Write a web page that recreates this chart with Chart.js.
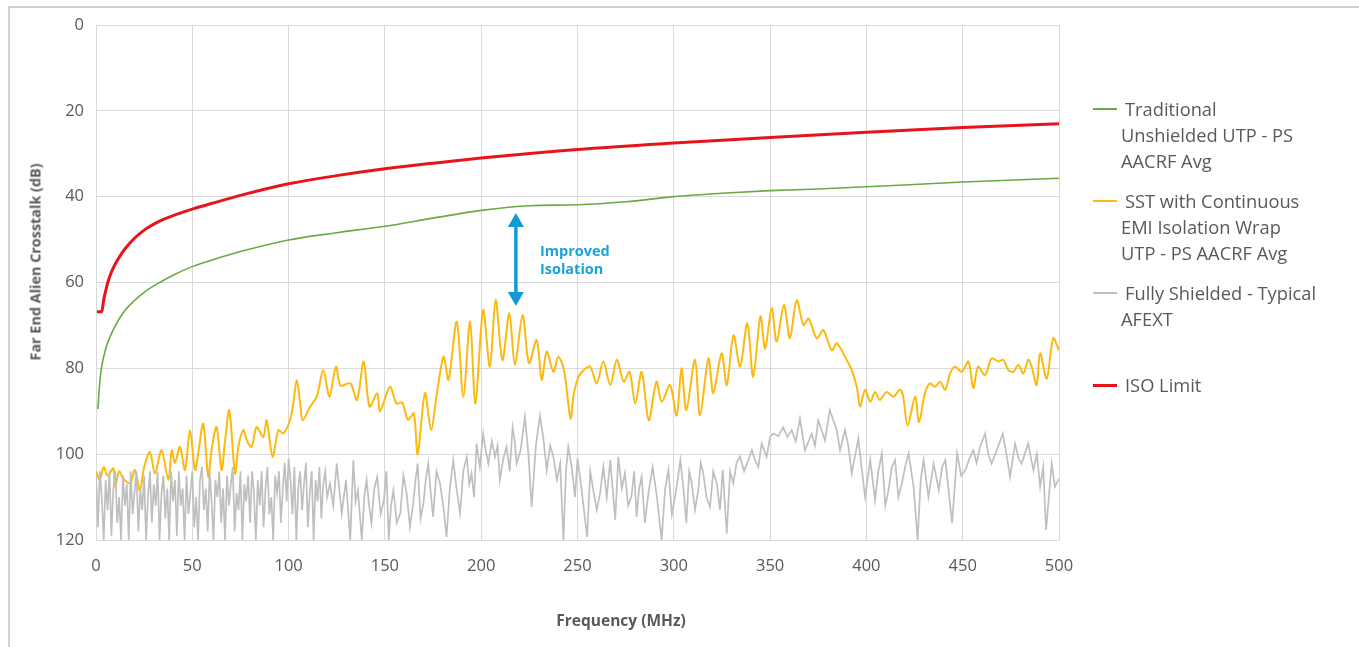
<!DOCTYPE html>
<html>
<head>
<meta charset="utf-8">
<script src="https://cdn.jsdelivr.net/npm/chart.js@4.4.1/dist/chart.umd.min.js"></script>
<style>
  html,body{margin:0;padding:0;background:#fff;}
  body{width:1359px;height:647px;position:relative;overflow:hidden;font-family:"Open Sans","Noto Sans",sans-serif;}
  #frame{position:absolute;left:8px;top:6px;width:1351px;height:641px;border-top:2px solid #d2d2d2;border-left:2px solid #d2d2d2;box-sizing:border-box;}
  #c{position:absolute;left:0;top:0;}
  .lg{position:absolute;left:1093px;color:#595959;font-size:18.3px;line-height:26px;white-space:nowrap;}
  .lg i{position:absolute;left:0;width:24px;top:12px;}
  .ttl{position:absolute;color:#595959;font-weight:bold;white-space:nowrap;transform:translate(-50%,-50%);}
  #ytitle{left:35px;top:262px;font-size:14.4px;transform:translate(-50%,-50%) rotate(-90deg);}
  #xtitle{left:621px;top:620px;font-size:15.5px;}
</style>
</head>
<body>
<div id="frame"></div>
<canvas id="c" width="1359" height="647"></canvas>
<div id="legend"></div>
<div class="ttl" id="ytitle">Far End Alien Crosstalk (dB)</div>
<div class="ttl" id="xtitle">Frequency (MHz)</div>
<script>
// ISO limit (red)
const isoFreq = [0.5, 3, 4, 5, 6, 7, 8, 10, 12.5, 15, 20, 25, 30, 35, 40, 50, 60, 75, 100, 125, 150, 175, 200, 250, 300, 350, 400, 450, 500];
const isoVals = [66.8, 66.8, 64, 62, 60.2, 58.8, 57.6, 55.7, 53.8, 52.2, 49.7, 47.8, 46.4, 45.3, 44.4, 42.9, 41.6, 39.7, 37, 35.1, 33.5, 32.2, 31, 29, 27.5, 26.2, 25, 23.9, 23];

// Traditional unshielded UTP (green)
const utpFreq = [1, 2, 3, 5, 7, 9, 12, 15, 20, 25, 30, 40, 50, 60, 75, 100, 125, 150, 175, 200, 225, 250, 275, 300, 325, 350, 375, 400, 450, 500];
const utpVals = [89.5, 83, 79.5, 75.5, 73, 71, 68.5, 66.5, 64.2, 62.3, 60.8, 58.3, 56.3, 54.8, 52.8, 50.1, 48.4, 46.9, 45, 43.2, 42.1, 41.9, 41.2, 40, 39.2, 38.6, 38.2, 37.7, 36.6, 35.7];

// SST with continuous EMI isolation wrap (yellow)
const sstFreq = [0, 2, 4, 6, 9, 10, 12, 14.2, 17.7, 20.2, 22.8, 25, 28, 30.6, 34, 37.6, 39.3, 41, 43.6, 46.2, 48.8, 51.4, 53, 55.7, 58.3, 60, 62.6, 65.2, 67, 69.2, 72.2, 74, 76.5, 78.5, 80.8, 83.4, 86.9, 88.6, 91.7, 94.7, 97.3, 100.7, 102.5, 104.2, 106, 107.3, 111.1, 114.6, 118, 121.2, 124.6, 127, 132, 135.5, 139, 142, 146, 147.5, 152.6, 156, 159, 162, 165, 167, 170.8, 174, 177, 180.5, 183, 187.3, 190.7, 194.2, 197, 201, 204.5, 207.5, 211, 214.6, 217.5, 221.5, 224.8, 228.8, 231.4, 234, 237.5, 240, 243, 246.4, 248, 250.5, 253, 256.5, 260, 263.4, 267, 270.4, 274, 277, 280, 283.3, 287, 291, 293.7, 298, 301.5, 304, 306.5, 311, 313.6, 318, 320.5, 324.8, 327.5, 331, 334.4, 338.2, 341.2, 345, 347.4, 350.8, 353.4, 357.2, 360.3, 363.8, 367.3, 370, 374.2, 377.6, 382, 384.6, 389.7, 392.4, 395, 396.7, 399.3, 402, 404.5, 407, 410.5, 414, 417.4, 419, 421.4, 425.3, 427.3, 430.4, 433, 435.6, 438.3, 440.9, 443.5, 446, 449.5, 453, 455.5, 458, 461.6, 465, 468.5, 471, 473.7, 476.3, 478.9, 481.5, 484, 485.8, 488.4, 490.2, 493.6, 497, 500];
const sstVals = [104, 106, 103, 105, 103.3, 107.6, 104, 105.7, 106.8, 103.7, 108.4, 103, 99.5, 104.5, 99.1, 106, 99.1, 102, 98.3, 103.7, 94.4, 103.7, 100, 92.9, 105.3, 99, 93.7, 103.7, 97, 89.8, 104.5, 98, 94.4, 97, 98.3, 93.7, 96, 92.1, 100.6, 94.4, 95.2, 92.1, 88, 82.7, 88, 92.1, 89, 86.6, 80.4, 86.6, 79.6, 84, 83.5, 87.4, 78.4, 88.9, 85.8, 90, 84.3, 88.2, 88, 92, 90.5, 100, 85.8, 94.4, 85.8, 77.3, 82.7, 69.1, 86.6, 69.1, 88.2, 66.4, 79.6, 64.1, 78.1, 67.2, 79.2, 67.6, 78.8, 73.4, 82.7, 76.1, 80.8, 77.3, 80.4, 91.7, 86, 82, 80.5, 79.6, 83.5, 78.4, 83.9, 78, 83.1, 80.8, 88.2, 80.8, 92.1, 83.1, 87.8, 83.9, 91, 80, 89.7, 78, 91, 77.7, 85.8, 76.5, 83.9, 72.3, 79.6, 69.5, 82, 67.9, 75.4, 66, 73.8, 65.2, 73, 64.1, 69.9, 68.4, 73, 71.1, 75.8, 74.2, 78, 80.4, 84.3, 88.9, 85, 87.8, 85.5, 87.4, 85.5, 86.6, 85, 86.3, 93.3, 86.6, 92.5, 85.8, 83.5, 84.3, 83.1, 85, 81.2, 79.6, 80.8, 78.4, 84.6, 79.6, 81.6, 77.7, 78.4, 78, 80.4, 80.8, 79.2, 81.2, 78, 79.6, 83.9, 76.5, 82.4, 73, 75.8];

// Fully shielded typical AFEXT (gray)
const shdFreq = [
  0, 1, 2, 3, 4, 5, 6, 7, 8, 9, 10, 11, 12, 13, 14, 15, 16, 17, 18, 19, 20,
  21, 22, 23, 24, 25, 26, 27, 28, 29, 30, 31, 32, 33, 34, 35, 36, 37, 38, 39, 40,
  41, 42, 43, 44, 45, 46, 47, 48, 49, 50, 51, 52, 53, 54, 55, 56, 57, 58, 59, 60,
  61, 62, 63, 64, 65, 66, 67, 68, 69, 70, 71, 72, 73, 74, 75, 76, 77, 78, 79, 80,
  81, 82, 83, 84, 85, 86, 87, 88, 89, 90, 91, 92, 93, 94, 95, 96, 97, 98, 99, 100,
  101, 102, 103, 104, 105, 106, 107, 108, 109, 110, 111, 112, 113, 114, 115, 116, 117, 118, 119, 120,
  121.5, 123.2, 125, 126.3, 127.6, 129.8, 132, 133.6, 134.8, 136, 138, 139.3, 140.5, 141.8, 143, 144.5, 146, 147.8, 149.5, 150.8,
  152, 153.2, 154.4, 156.2, 158, 159.6, 161.3, 163, 164.7, 165.9, 167, 168.5, 170, 171.2, 172.5, 173.8, 175, 176.8, 178.6, 180.3,
  182, 183.7, 185.5, 187.2, 189, 190.7, 192.5, 193.8, 195, 196.3, 197.6, 199.3, 201, 202.3, 203.7, 205.5, 207.2, 208.5, 209.7, 211.5,
  213.2, 214.8, 216.3, 217.4, 218.4, 220.5, 222.7, 224.5, 226.2, 228.4, 230.5, 232.2, 234, 235.8, 237.5, 239.3, 241, 242.7, 244, 245.2,
  247, 248.7, 250, 251.3, 253.1, 255, 256.6, 258.2, 260, 261.7, 263.4, 265.2, 267, 269.6, 271.2, 273, 274.6, 276.3, 278, 279.4,
  280.7, 282, 283.3, 285, 286.8, 289, 291, 293.7, 295.5, 297.2, 299, 300.6, 302, 303.4, 305, 306.5, 308, 309.3, 311, 312.7,
  314, 315.3, 317, 318.8, 320.5, 322.3, 324, 325.4, 327.5, 329.2, 330.9, 332.6, 334.4, 336.5, 338.7, 340.5, 342.2, 343.9, 345.6, 348.2,
  350, 351.7, 354.2, 356.8, 359, 361.2, 363.3, 365.5, 368.1, 371.6, 373.3, 375, 378.5, 381, 384.6, 386.3, 388.9, 390.6, 392.4, 395.8,
  397.5, 399.3, 402, 404.5, 406.2, 408, 409.8, 411.5, 413.2, 414.9, 416.6, 418.4, 420.1, 421.9, 424.5, 426.6, 428.2, 429.7, 432.2, 434.9,
  437.6, 439.3, 441, 444.5, 447.1, 449.2, 451.4, 453.5, 455.5, 457.2, 459, 461.6, 463.3, 465, 467.7, 470.8, 472.7, 474.6, 477.2, 479,
  480.6, 484, 486.7, 488.5, 490.2, 491.8, 493.3, 496.2, 497.9, 500
];
const shdVals = [
  105, 117, 104, 110, 120, 106, 113, 104, 119, 108, 104, 116, 110, 120, 105, 112, 107, 120, 104, 114, 109,
  104, 118, 108, 113, 105, 120, 110, 104, 116, 107, 112, 104, 120, 109, 105, 115, 108, 120, 104, 111,
  106, 119, 104, 112, 108, 120, 105, 114, 109, 104, 117, 110, 120, 106, 103, 113, 108, 118, 104, 111,
  120, 106, 110, 104, 116, 108, 120, 105, 112, 107, 103, 118, 109, 113, 104, 120, 107, 111, 105, 116,
  104, 109, 120, 106, 112, 104, 117, 108, 103, 114, 110, 120, 105, 109, 104, 116, 108, 102, 111, 101,
  106, 114, 103, 120, 108, 104, 113, 107, 102, 117, 109, 104, 120, 106, 111, 103, 115, 107, 104, 110,
  106.8, 112, 102.2, 108, 113.8, 106, 120, 101.4, 111, 108.4, 120, 110, 106, 112, 116, 108, 105.3, 114, 110.7, 104,
  120, 112, 108.4, 116, 113.8, 105, 109.2, 117, 111.5, 106, 102.2, 115, 111.5, 106, 102.2, 109, 114.6, 104, 106.8, 112,
  119.3, 108, 101.4, 108, 113.8, 104, 100.6, 107, 104.5, 110, 97.5, 103, 95.2, 99, 102.2, 97, 100.6, 98, 106, 101,
  98.3, 104, 93.7, 97, 102.2, 99, 91.3, 100, 112.3, 98, 91, 96, 103.7, 98, 100.6, 106, 102.2, 120, 104, 98.3,
  103, 110, 101, 105.3, 112, 119.3, 104, 108.4, 113, 109.2, 103, 110, 101.4, 115.3, 100.6, 108, 104.5, 112, 110, 104,
  114.6, 108, 105.3, 116, 109.2, 103, 109.2, 120, 108, 103.7, 114, 110, 106, 101.4, 108, 116.1, 104, 106.8, 113, 108.4,
  102, 104.5, 110, 112.3, 104, 106.8, 113, 103.7, 118.5, 104, 106.8, 102, 100.6, 104, 101.4, 99, 101.4, 103, 97.5, 100.6,
  96, 95.2, 95.8, 93.7, 96, 94.4, 97, 91.7, 99.1, 95.2, 98, 92.1, 96.8, 89.7, 94.4, 99.1, 94.4, 98, 104.5, 96.4,
  103, 110, 101.4, 110.7, 104, 99.8, 112, 108.4, 103, 101.4, 110, 106.8, 103, 99.8, 107.6, 120, 106, 101.4, 110, 102.2,
  108.4, 103, 101.4, 116.1, 99.8, 105, 103.7, 101, 99.1, 102, 98.3, 95.2, 100, 102.2, 99.1, 95.2, 100, 105.3, 97.5, 101,
  102.2, 97.5, 103.7, 100, 107.6, 103, 117.7, 102.2, 107.6, 105.7
];

const xTicks = [0, 50, 100, 150, 200, 250, 300, 350, 400, 450, 500];
const yTicks = [0, 20, 40, 60, 80, 100, 120];

// annotation: arrow at 218 MHz from 43.8 dB to 65.5 dB
const arrowAt = {f: 218, from: 43.8, to: 65.5};
const noteText = ['Improved', 'Isolation'];
const noteAt = {f: 230.5, v: [52.9, 57.1]};

const series = [
  {label: 'Traditional Unshielded UTP - PS AACRF Avg', lines: ['Traditional', 'Unshielded UTP - PS', 'AACRF Avg'], f: utpFreq, v: utpVals, color: '#6aaa45', width: 1.6, order: 3, tension: 0.3, top: 96},
  {label: 'SST with Continuous EMI Isolation Wrap UTP - PS AACRF Avg', lines: ['SST with Continuous', 'EMI Isolation Wrap', 'UTP - PS AACRF Avg'], f: sstFreq, v: sstVals, color: '#fcb90f', width: 2, order: 2, tension: 0.3, top: 188},
  {label: 'Fully Shielded - Typical AFEXT', lines: ['Fully Shielded - Typical', 'AFEXT'], f: shdFreq, v: shdVals, color: '#bfbfbf', width: 1.7, order: 1, tension: 0, top: 280},
  {label: 'ISO Limit', lines: ['ISO Limit'], f: isoFreq, v: isoVals, color: '#e8141c', width: 3, order: 0, tension: 0.3, top: 372}
];

function pts(f, v){ return f.map((x,i)=>({x:x, y:v[i]})); }

const annotate = {
  id: 'annotate',
  afterDatasetsDraw(chart){
    const {ctx, scales:{x, y}} = chart;
    const ax = x.getPixelForValue(arrowAt.f);
    const y1 = y.getPixelForValue(arrowAt.from), y2 = y.getPixelForValue(arrowAt.to);
    const head = 14, hw = 8;
    ctx.save();
    ctx.strokeStyle = '#0f9bd7'; ctx.fillStyle = '#0f9bd7'; ctx.lineWidth = 3.5;
    ctx.beginPath(); ctx.moveTo(ax, y1 + head - 1); ctx.lineTo(ax, y2 - head + 1); ctx.stroke();
    ctx.beginPath(); ctx.moveTo(ax, y1); ctx.lineTo(ax - hw, y1 + head); ctx.lineTo(ax + hw, y1 + head); ctx.closePath(); ctx.fill();
    ctx.beginPath(); ctx.moveTo(ax, y2); ctx.lineTo(ax - hw, y2 - head); ctx.lineTo(ax + hw, y2 - head); ctx.closePath(); ctx.fill();
    ctx.fillStyle = '#17a3dd';
    ctx.font = 'bold 14.5px "Open Sans", sans-serif';
    ctx.textBaseline = 'middle';
    noteText.forEach((t,i)=> ctx.fillText(t, x.getPixelForValue(noteAt.f), y.getPixelForValue(noteAt.v[i])));
    ctx.restore();
  }
};

new Chart(document.getElementById('c'), {
  type: 'line',
  data: { datasets: series.map(s=>({
    label: s.label, data: pts(s.f, s.v), borderColor: s.color, borderWidth: s.width,
    pointRadius: 0, tension: s.tension, cubicInterpolationMode: s.order===0||s.order===3 ? 'monotone' : 'default',
    fill: false, order: s.order
  }))},
  options: {
    responsive: false, animation: false,
    layout: { padding: {left: 0, right: 300, top: 25, bottom: 0} },
    plugins: { legend: {display: false}, tooltip: {enabled: false} },
    scales: {
      x: {
        type: 'linear', min: 0, max: 500,
        afterBuildTicks: s => { s.ticks = xTicks.map(v=>({value:v})); },
        afterFit: s => { s.height = 107; },
        grid: {color: '#d9d9d9', drawTicks: false}, border: {display: false},
        ticks: {color: '#595959', font: {family: '"Open Sans", sans-serif', size: 16.5}, padding: 16, maxRotation: 0}
      },
      y: {
        min: 0, max: 120, reverse: true,
        afterBuildTicks: s => { s.ticks = yTicks.map(v=>({value:v})); },
        afterFit: s => { s.width = 96; },
        grid: {color: '#d9d9d9', drawTicks: false}, border: {display: false},
        ticks: {color: '#595959', font: {family: '"Open Sans", sans-serif', size: 16.5}, padding: 12}
      }
    }
  },
  plugins: [annotate]
});

document.getElementById('legend').innerHTML = series.map(s=>`
  <div class="lg" style="top:${s.top}px">
    <i style="border-top:${s.width>2?3:2}px solid ${s.color}"></i>
    ${s.lines.map((l,i)=>`<div style="margin-left:${i?28:32}px">${l}</div>`).join('')}
  </div>`).join('');
</script>
</body>
</html>
